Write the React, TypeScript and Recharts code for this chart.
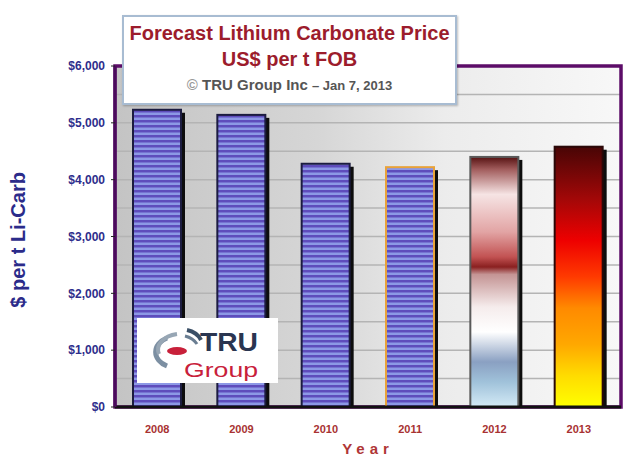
import { BarChart, Bar, XAxis, YAxis, CartesianGrid, Cell, Label, ReferenceArea } from "recharts";

const years = ["2008", "2009", "2010", "2011", "2012", "2013"];
const prices = [5230, 5140, 4280, 4220, 4400, 4580];
const yTicks = [0, 1000, 2000, 3000, 4000, 5000, 6000];
const gridValues = [500, 1000, 1500, 2000, 2500, 3000, 3500, 4000, 4500, 5000, 5500];

const barFills = ["url(#stripes)", "url(#stripes)", "url(#stripes)", "url(#stripes)", "url(#grad2012)", "url(#grad2013)"];
const barStrokes = ["#1c1c40", "#1c1c40", "#1c1c40", "#e8a23a", "#5a5a5a", "#2a0808"];

const data = years.map((year, i) => ({ year, price: prices[i] }));

const FONT = "'Liberation Sans', Arial, sans-serif";

function ShadowBar(props: any) {
  const { x, y, width, height, fill, stroke } = props;
  if (!height || height <= 0) return null;
  return (
    <g>
      <rect x={x + 4} y={y + 3} width={width} height={height - 3} fill="#0d0d0d" />
      <rect x={x} y={y} width={width} height={height} fill={fill} stroke={stroke} strokeWidth={2} />
    </g>
  );
}

function YLabel(props: any) {
  const { viewBox } = props;
  const cx = 18;
  const cy = viewBox.y + viewBox.height * 0.51;
  return (
    <text
      x={cx}
      y={cy}
      transform={`rotate(-90, ${cx}, ${cy})`}
      textAnchor="middle"
      dominantBaseline="central"
      fill="#2b2b8a"
      fontSize={20}
      fontWeight="bold"
      fontFamily={FONT}
    >
      $ per t Li-Carb
    </text>
  );
}

export default function App() {
  return (
    <div style={{ position: "absolute", left: 0, top: 0, width: 624, height: 456, background: "#fff", fontFamily: FONT }}>
      <BarChart width={624} height={456} data={data} margin={{ top: 66, right: 3, left: 0, bottom: 0 }}>
        <defs>
          <pattern id="stripes" patternUnits="userSpaceOnUse" width="6" height="5">
            <rect width="6" height="5" fill="#8c98e6" />
            <rect width="6" height="2.5" fill="#5e4cbc" />
          </pattern>
          <linearGradient id="grad2012" x1="0" y1="0" x2="0" y2="1">
            <stop offset="0%" stopColor="#561212" />
            <stop offset="5%" stopColor="#a25d5d" />
            <stop offset="15%" stopColor="#f6e4e4" />
            <stop offset="30%" stopColor="#e2a4a4" />
            <stop offset="40%" stopColor="#c25252" />
            <stop offset="44%" stopColor="#8a2020" />
            <stop offset="47%" stopColor="#c49494" />
            <stop offset="60%" stopColor="#f5ecec" />
            <stop offset="70%" stopColor="#ffffff" />
            <stop offset="82%" stopColor="#8aa0c2" />
            <stop offset="90%" stopColor="#a0c2da" />
            <stop offset="100%" stopColor="#d4eaf6" />
          </linearGradient>
          <linearGradient id="grad2013" x1="0" y1="0" x2="0" y2="1">
            <stop offset="0%" stopColor="#480505" />
            <stop offset="20%" stopColor="#a20808" />
            <stop offset="36%" stopColor="#ee0000" />
            <stop offset="50%" stopColor="#ff3a00" />
            <stop offset="62%" stopColor="#ff8a00" />
            <stop offset="76%" stopColor="#ffa800" />
            <stop offset="88%" stopColor="#ffdc00" />
            <stop offset="100%" stopColor="#ffff00" />
          </linearGradient>
          <linearGradient id="plotBg" x1="0" y1="0" x2="1" y2="0">
            <stop offset="0%" stopColor="#c4c4c4" />
            <stop offset="40%" stopColor="#d6d6d6" />
            <stop offset="65%" stopColor="#ececec" />
            <stop offset="100%" stopColor="#f8f8f8" />
          </linearGradient>
        </defs>
        <CartesianGrid
          vertical={false}
          horizontalValues={gridValues}
          stroke="#b4b4b4"
          strokeWidth={1.5}
          fill="url(#plotBg)"
          fillOpacity={1}
        />
        <ReferenceArea
          x1="2008"
          x2="2013"
          y1={0}
          y2={6000}
          fill="none"
          stroke="#5c0c68"
          strokeWidth={3.5}
          ifOverflow="visible"
        />
        <XAxis
          dataKey="year"
          height={49}
          axisLine={{ stroke: "#111", strokeWidth: 3 }}
          tickLine={false}
          tickMargin={12}
          tick={{ fill: "#a83232", fontSize: 11, fontWeight: "bold", fontFamily: FONT }}
        >
          <Label
            value="Year"
            position="insideBottom"
            offset={2}
            fill="#b03636"
            fontSize={15}
            fontWeight="bold"
            fontFamily={FONT}
            style={{ letterSpacing: "5px" }}
          />
        </XAxis>
        <YAxis
          width={115}
          domain={[0, 6000]}
          ticks={yTicks}
          interval={0}
          axisLine={{ stroke: "#4a0a5c", strokeWidth: 3 }}
          tickLine={{ stroke: "#222" }}
          tickSize={4}
          tickMargin={6}
          tickFormatter={(v: number) => `$${v.toLocaleString("en-US")}`}
          tick={{ fill: "#2e2e8c", fontSize: 12, fontWeight: "bold", fontFamily: FONT }}
        >
          <Label content={<YLabel />} />
        </YAxis>
        <Bar dataKey="price" barSize={48} isAnimationActive={false} shape={<ShadowBar />}>
          {data.map((d, i) => (
            <Cell key={d.year} fill={barFills[i]} stroke={barStrokes[i]} />
          ))}
        </Bar>
      </BarChart>

      <div
        style={{
          position: "absolute",
          left: 122,
          top: 15,
          width: 331,
          height: 86,
          background: "#fff",
          border: "2px solid #a8bcd2",
          boxShadow: "1px 1px 2px rgba(0,0,0,0.25)",
          textAlign: "center",
          fontWeight: "bold",
          lineHeight: 1,
        }}
      >
        <div style={{ color: "#9c1c2c", fontSize: 20, marginTop: 6 }}>Forecast Lithium Carbonate Price</div>
        <div style={{ color: "#9c1c2c", fontSize: 20, marginTop: 6 }}>US$ per t FOB</div>
        <div style={{ color: "#555", fontSize: 15, marginTop: 8 }}>
          <span style={{ color: "#999" }}>©</span> TRU Group Inc <span style={{ fontSize: 13 }}>– Jan 7, 2013</span>
        </div>
      </div>

      <div
        style={{
          position: "absolute",
          left: 137,
          top: 318,
          width: 141,
          height: 65,
          background: "#fff",
        }}
      >
        <svg width={141} height={65}>
          <path d="M30 20 A22 16 0 0 0 30 48" fill="none" stroke="#7c8fa2" strokeWidth={5} />
          <path d="M40 16 A24 16 0 0 0 22 36" fill="none" stroke="#97a6b4" strokeWidth={4} />
          <path d="M50 12 Q60 14 64 22" fill="none" stroke="#3a4f66" strokeWidth={4} />
          <path d="M48 18 Q56 20 60 26" fill="none" stroke="#6a7e92" strokeWidth={3} />
          <ellipse cx={40} cy={33} rx={10} ry={4} fill="#c8203a" />
          <text x={63} y={33} fill="#2a3550" fontSize={25} fontWeight="bold" fontFamily={FONT} textLength={58} lengthAdjust="spacingAndGlyphs">TRU</text>
          <text x={47} y={59} fill="#c8203a" fontSize={21} fontFamily={FONT} textLength={74} lengthAdjust="spacingAndGlyphs">Group</text>
        </svg>
      </div>
    </div>
  );
}
